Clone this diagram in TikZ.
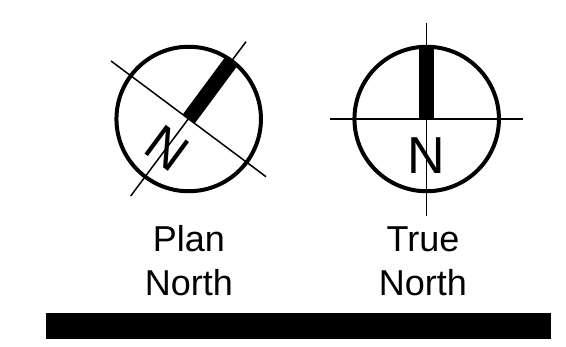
\documentclass[tikz,border=0pt]{standalone}
\usepackage{fontspec}
\setmainfont{Liberation Sans}
\tikzset{
 ring/.style={draw=black,line width=4pt,circle,inner sep=0pt,minimum size=144.5pt},
 hair/.style={draw=black,line width=1.5pt},
 needle/.style={draw=black,line width=15pt},
 letter/.style={font=\fontsize{52}{52}\selectfont,inner sep=0pt,text=black},
 caption/.style={font=\fontsize{36}{36}\selectfont,inner sep=0pt,anchor=base,text=black}
}
\begin{document}
\begin{tikzpicture}[x=1pt,y=-1pt]
\useasboundingbox (0,0) rectangle (566,347);
\fill[white] (0,0) rectangle (566,347);
% plan north
\coordinate (pc) at (188.7,119);
\coordinate (pa) at (111,61);
\coordinate (pb) at (266,176.7);
\coordinate (pd) at (246,41.7);
\coordinate (pe) at (130.7,196);
\coordinate (pf) at (231.8,60.8);
\draw[needle] (pc) -- (pf);
\draw[hair] (pa) -- (pb);
\draw[hair] (pd) -- (pe);
\node[ring] (planring) at (pc) {};
\node[letter,rotate=-36.5] (planN) at (167,148) {N};
% true north
\coordinate (tc) at (426.7,119);
\coordinate (ta) at (330,119);
\coordinate (tb) at (523.3,119);
\coordinate (td) at (426.7,22.7);
\coordinate (te) at (426.7,215.7);
\coordinate (tf) at (426.7,46.5);
\draw[needle] (tc) -- (tf);
\draw[hair] (ta) -- (tb);
\draw[hair] (td) -- (te);
\node[ring] (truering) at (tc) {};
\node[letter] (trueN) at (426.7,155.3) {N};
% captions
\node[caption] (plan1) at (188.8,251.7) {Plan};
\node[caption] (plan2) at (189,296) {North};
\node[caption] (true1) at (423,251.7) {True};
\node[caption] (true2) at (423,296) {North};
% bar
\fill[black] (46,313) rectangle (551,339);
\end{tikzpicture}
\end{document}
